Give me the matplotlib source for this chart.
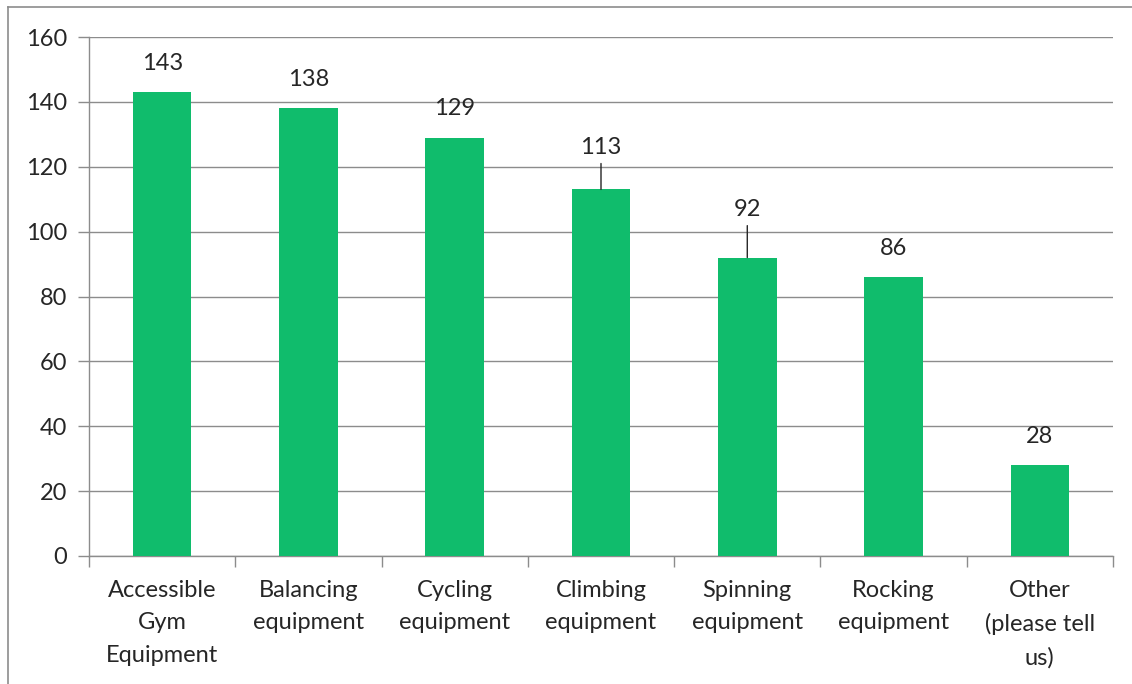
import matplotlib
matplotlib.use("Agg")
import matplotlib.pyplot as plt
from matplotlib.lines import Line2D

categories = ["Accessible\nGym\nEquipment", "Balancing\nequipment", "Cycling\nequipment",
              "Climbing\nequipment", "Spinning\nequipment", "Rocking\nequipment",
              "Other\n(please tell\nus)"]
values = [143, 138, 129, 113, 92, 86, 28]

plt.rcParams['font.family'] = ['Lato', 'DejaVu Sans']
green = '#10BC6C'
grey = '#8C8C8C'
text_col = '#262626'
fs = 17

fig = plt.figure(figsize=(11.32, 6.84), dpi=100)
ax = fig.add_axes([89/1132, 1-556/684, (1113-89)/1132, (556-37)/684])

x = range(len(values))
ax.bar(x, values, width=0.4, color=green, zorder=3)

ax.set_ylim(0, 160)
ax.set_xlim(-0.5, len(values)-0.5)
ax.set_yticks(range(0, 161, 20))
ax.yaxis.grid(True, color=grey, linewidth=1.0, zorder=0)
ax.tick_params(axis='y', length=8, width=1, color=grey, labelsize=fs, labelcolor=text_col, pad=8)

# category ticks sit between the bars
ax.set_xticks([i + 0.5 for i in range(-1, len(values))], minor=False)
ax.set_xticklabels([])
ax.set_xticks(list(x), minor=True)
ax.set_xticklabels(categories, minor=True, fontsize=fs, color=text_col, linespacing=1.68)
ax.tick_params(axis='x', which='major', length=8, width=1, color=grey, direction='out')
ax.tick_params(axis='x', which='minor', length=0, pad=17)

for s in ['top', 'right']:
    ax.spines[s].set_visible(False)
for s in ['left', 'bottom']:
    ax.spines[s].set_color(grey)
    ax.spines[s].set_linewidth(1)

# data labels, two of them pushed up with leader lines
extra = {3: 13, 4: 19}
for i, v in enumerate(values):
    off = 29 + extra.get(i, 0)
    if i in extra:
        ax.annotate(str(v), xy=(i, v), xytext=(0, off), textcoords='offset pixels',
                    ha='center', va='center', fontsize=fs, color=text_col,
                    arrowprops=dict(arrowstyle='-', color='#262626', lw=1, shrinkA=2, shrinkB=0))
    else:
        ax.annotate(str(v), xy=(i, v), xytext=(0, off), textcoords='offset pixels',
                    ha='center', va='center', fontsize=fs, color=text_col)

# chart frame (only left and top visible in the crop)
fig.add_artist(Line2D([8/1132, 8/1132], [0, 1-7/684], color=grey, lw=1.2, transform=fig.transFigure))
fig.add_artist(Line2D([8/1132, 1], [1-7/684, 1-7/684], color=grey, lw=1.2, transform=fig.transFigure))

fig.savefig("out.png", dpi=100, facecolor='white')
